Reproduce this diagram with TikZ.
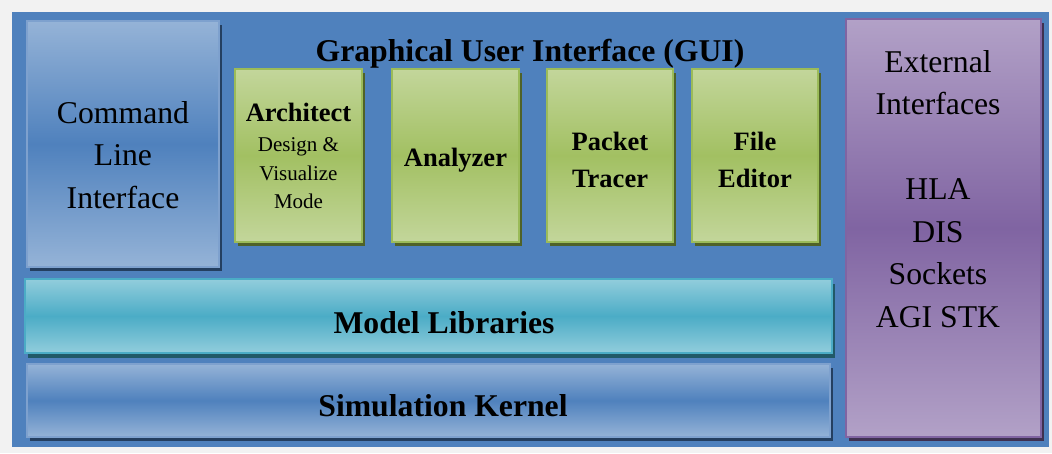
\documentclass[tikz,border=0pt]{standalone}
\usepackage{fontspec}
\setmainfont{Liberation Serif}
\usetikzlibrary{shadows}

\definecolor{pagegray}{HTML}{F2F2F2}
\definecolor{panelblue}{HTML}{4F81BD}
\definecolor{lightblue}{HTML}{95B3D7}
\definecolor{blueedge}{HTML}{7EA1CE}
\definecolor{navyshadow}{HTML}{243F60}
\definecolor{lightgreen}{HTML}{C3D69B}
\definecolor{midgreen}{HTML}{A2C062}
\definecolor{greenedge}{HTML}{9BBB59}
\definecolor{oliveshadow}{HTML}{4F6228}
\definecolor{lightteal}{HTML}{92CDDC}
\definecolor{tealedge}{HTML}{4BACC6}
\definecolor{tealshadow}{HTML}{215968}
\definecolor{lightpurple}{HTML}{B2A1C7}
\definecolor{purpleedge}{HTML}{8064A2}
\definecolor{purpleshadow}{HTML}{3F3151}

\tikzset{
  layer/.style={rectangle, inner sep=0pt, align=center, text=black},
  bluebox/.style={layer, draw=blueedge, line width=1.2pt,
    top color=lightblue, bottom color=lightblue, middle color=panelblue,
    general shadow={fill=navyshadow, shadow xshift=3pt, shadow yshift=-4pt}},
  greenbox/.style={layer, draw=greenedge, line width=2.5pt,
    top color=lightgreen, bottom color=lightgreen, middle color=midgreen,
    general shadow={fill=oliveshadow, shadow xshift=3pt, shadow yshift=-4pt}},
  tealbox/.style={layer, draw=tealedge, line width=2pt,
    top color=lightteal, bottom color=lightteal, middle color=tealedge,
    general shadow={fill=tealshadow, shadow xshift=3pt, shadow yshift=-5pt}},
  purplebox/.style={layer, draw=purpleedge, line width=2pt,
    top color=lightpurple, bottom color=lightpurple, middle color=purpleedge,
    general shadow={fill=purpleshadow, shadow xshift=3pt, shadow yshift=-4pt}},
  bigtext/.style={font=\fontsize{31.7}{42.5}\selectfont},
  boldbig/.style={font=\fontsize{31.7}{42.5}\selectfont\bfseries},
  toolname/.style={font=\fontsize{26.5}{37}\selectfont\bfseries},
  smalltext/.style={font=\fontsize{21}{28.5}\selectfont},
}

\begin{document}
\begin{tikzpicture}[x=1pt,y=-1pt]
  % page and outer panel
  \fill[pagegray] (0,0) rectangle (1052,453);
  \fill[panelblue] (12,12) rectangle (1049,447);

  % command line interface
  \node[bluebox, minimum width=192pt, minimum height=246pt] (cli) at (123,144) {};
  \node[layer, bigtext] (clitext) at (123,155) {Command\\Line\\Interface};

  % GUI title and tools
  \node[layer, boldbig] (gui) at (530,54) {Graphical User Interface (GUI)};

  \node[greenbox, minimum width=127pt, minimum height=173pt] (arch) at (298.5,155.5) {};
  \node[layer, smalltext] (archtext) at (298.5,156) {%
    {\fontsize{26.5}{30}\selectfont\bfseries Architect}\\[1.5pt]
    Design \&\\
    Visualize\\
    Mode};

  \node[greenbox, minimum width=127pt, minimum height=173pt] (analyzer) at (455.5,155.5) {};
  \node[layer, toolname] (analyzertext) at (455.5,160) {Analyzer};

  \node[greenbox, minimum width=126pt, minimum height=173pt] (tracer) at (610,155.5) {};
  \node[layer, toolname] (tracertext) at (610,160) {Packet\\Tracer};

  \node[greenbox, minimum width=126pt, minimum height=173pt] (editor) at (755,155.5) {};
  \node[layer, toolname] (editortext) at (755,160) {File\\Editor};

  % lower layers
  \node[tealbox, minimum width=807pt, minimum height=74pt] (models) at (428.5,316) {};
  \node[layer, boldbig] (modelstext) at (444,323) {Model Libraries};

  \node[bluebox, minimum width=803pt, minimum height=73pt] (kernel) at (428.5,400.5) {};
  \node[layer, boldbig] (kerneltext) at (443,406) {Simulation Kernel};

  % external interfaces
  \node[purplebox, minimum width=195pt, minimum height=418pt] (ext) at (943.5,228) {};
  \node[layer, bigtext, anchor=north] (exttext) at (938,50) {External\\Interfaces\\[42.5pt]HLA\\DIS\\Sockets\\AGI STK};
\end{tikzpicture}
\end{document}
